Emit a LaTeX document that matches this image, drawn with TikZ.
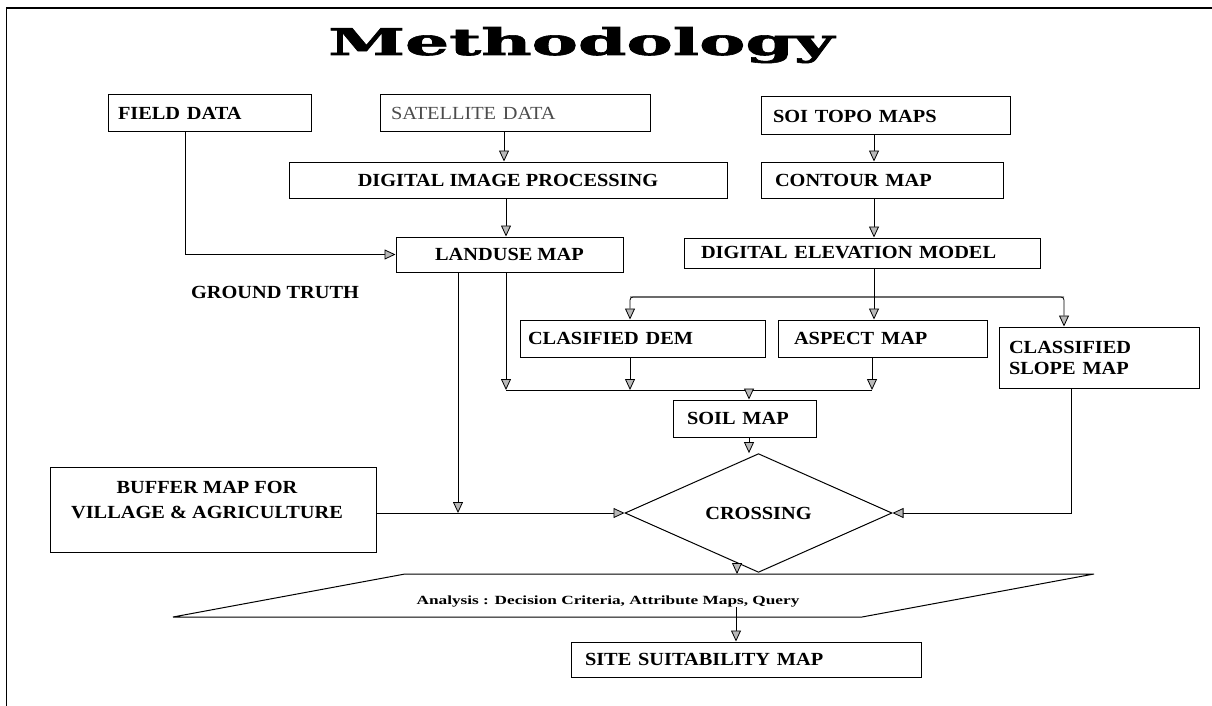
\documentclass[tikz,border=0pt]{standalone}
\usepackage{fontspec}
\usepackage{graphicx}
\setmainfont{Liberation Serif}
\newfontfamily\titlefam{DejaVu Serif}[BoldFeatures={FakeBold=1.5}]
\usetikzlibrary{arrows.meta,shapes.geometric}
\newcommand{\bt}[1]{\scalebox{1.1}[1]{#1}}
\begin{document}
\begin{tikzpicture}[x=1pt,y=-1pt,
  box/.style={draw, line width=1pt, inner sep=0pt, font=\fontsize{18.5}{21}\selectfont\bfseries},
  ln/.style={line width=0.8pt},
  arr/.style={line width=0.8pt, -{Triangle[length=11pt,width=10pt,fill=gray!55]}},
]
\useasboundingbox (0,0) rectangle (1212,706);
\coordinate (fr1) at (6.5,706);
\coordinate (fr2) at (6.5,8);
\coordinate (fr3) at (1212,8);
\draw[line width=1.2pt] (fr1) -- (fr2) -- (fr3);

\node[anchor=base west, inner sep=0pt] (title) at (328,55) {\resizebox{506pt}{28pt}{\titlefam\bfseries Methodology}};

\node[box, minimum width=203pt, minimum height=37pt, text width=183pt, align=left] (field) at (209.5,113.5) {\bt{FIELD DATA}};
\node[box, minimum width=270pt, minimum height=37pt, text width=248pt, align=left, font=\fontsize{18.5}{21}\selectfont, text=black!70] (sat) at (515,113.5) {\bt{SATELLITE DATA}};
\node[box, minimum width=249pt, minimum height=38pt, text width=225pt, align=left] (soi) at (885.5,116) {\bt{SOI TOPO MAPS}};
\node[box, minimum width=438pt, minimum height=36pt, align=center] (dip) at (508,180) {\bt{DIGITAL IMAGE PROCESSING}};
\node[box, minimum width=242pt, minimum height=36pt, text width=214pt, align=left] (contour) at (882,180) {\bt{CONTOUR MAP}};
\node[box, minimum width=227pt, minimum height=35pt, align=center] (landuse) at (509.5,254.5) {\bt{LANDUSE MAP}};
\node[box, minimum width=356pt, minimum height=30pt, text width=322pt, align=left] (dem) at (862,253) {\bt{DIGITAL ELEVATION MODEL}};
\node[font=\fontsize{18.5}{21}\selectfont\bfseries, inner sep=0pt] (gt) at (275,292) {\bt{GROUND TRUTH}};
\node[box, minimum width=245pt, minimum height=37pt, text width=229pt, align=left] (cdem) at (642.5,338.5) {\bt{CLASIFIED DEM}};
\node[box, minimum width=209pt, minimum height=37pt, text width=177pt, align=left] (aspect) at (882.5,338.5) {\bt{ASPECT MAP}};
\node[box, minimum width=200pt, minimum height=61pt, text width=180pt, align=left] (cslope) at (1099,357.5) {\bt{CLASSIFIED}\\\bt{SLOPE MAP}};
\node[box, minimum width=143pt, minimum height=37pt, text width=115pt, align=left] (soil) at (744.5,418.5) {\bt{SOIL MAP}};
\node[box, minimum width=326pt, minimum height=85pt] (buffer) at (213,509.5) {};
\node[font=\fontsize{18.5}{25}\selectfont\bfseries, align=center, inner sep=0pt] (buftext) at (207,500.5) {\bt{BUFFER MAP FOR}\\\bt{VILLAGE \& AGRICULTURE}};
\node[draw, diamond, line width=1pt, minimum width=267pt, minimum height=74pt, inner sep=0pt, font=\fontsize{18.5}{21}\selectfont\bfseries] (crossing) at (758.5,513) {\bt{CROSSING}};
\coordinate (p1) at (173,617);
\coordinate (p2) at (405,574);
\coordinate (p3) at (1094,574);
\coordinate (p4) at (862,617);
\draw[line width=1pt] (p1) -- (p2) -- (p3) -- (p4) -- cycle;
\node[font=\fontsize{12.5}{15}\selectfont\bfseries, inner sep=0pt] (ana) at (608,602) {\scalebox{1.38}[1]{Analysis : Decision Criteria, Attribute Maps, Query}};
\node[box, minimum width=350pt, minimum height=35pt, text width=322pt, align=left] (site) at (746,659.5) {\bt{SITE SUITABILITY MAP}};

% connectors
\coordinate (xf) at (185,0);
\coordinate (xs) at (504,0);
\coordinate (xl) at (506,0);
\coordinate (xc) at (874,0);
\coordinate (b1l) at (630,297);
\coordinate (b1r) at (1064,297);
\coordinate (x1) at (458,513);
\coordinate (b2l) at (506,390);
\coordinate (b2r) at (872,390);
\coordinate (xso) at (749,0);
\coordinate (xsl) at (1071,0);
\coordinate (xcr) at (737,0);
\coordinate (parat) at (736,607);

\draw[arr] (field.south -| xf) -- (xf |- landuse.west) -- (landuse.west);
\draw[arr] (sat.south -| xs) -- (dip.north -| xs);
\draw[arr] (dip.south -| xl) -- (landuse.north -| xl);
\draw[arr] (soi.south -| xc) -- (contour.north -| xc);
\draw[arr] (contour.south -| xc) -- (dem.north -| xc);
\draw[arr] (dem.south -| xc) -- (aspect.north -| xc);
\draw[arr, rounded corners=3pt] (b1r) -- (b1l) -- (cdem.north -| b1l);
\draw[arr, rounded corners=3pt] (b1l) -- (b1r) -- (cslope.north -| b1r);
\draw[arr] (landuse.south -| x1) -- (x1);
\draw[arr] (landuse.south -| b2l) -- (b2l);
\draw[ln] (b2l) -- (b2r);
\draw[arr] (cdem.south -| b1l) -- (b1l |- b2l);
\draw[arr] (aspect.south -| b2r) -- (b2r);
\draw[arr] (xso |- b2l) -- (soil.north -| xso);
\draw[arr] (soil.south -| xso) -- (crossing.north -| xso);
\draw[arr] (buffer.east |- crossing.west) -- (crossing.west);
\draw[arr] (cslope.south -| xsl) |- (crossing.east);
\draw[arr] (crossing.south -| xcr) -- (xcr |- p2);
\draw[arr] (parat) -- (site.north -| parat);
\end{tikzpicture}
\end{document}
